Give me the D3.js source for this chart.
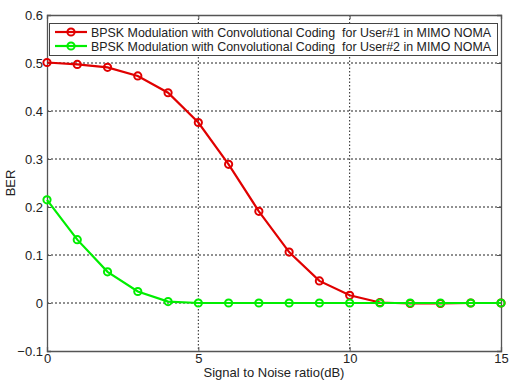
<!DOCTYPE html>
<html>
<head>
<meta charset="utf-8">
<script src="https://cdn.jsdelivr.net/npm/d3@7"></script>
<style>
  body { margin:0; background:#fff; }
  svg text { font-family: Arial, "Liberation Sans", sans-serif; }
</style>
</head>
<body>
<svg id="chart"></svg>
<script>
const width = 513, height = 388;

const snr = [0,1,2,3,4,5,6,7,8,9,10,11,12,13,14,15]
const user1 = [0.501,0.497,0.491,0.473,0.438,0.376,0.289,0.191,0.106,0.046,0.016,0.001,-0.001,-0.001,0,0]
const user2 = [0.215,0.132,0.065,0.024,0.003,0,0,0,0,0,0,0,0,0,0,0]
const seriesNames = ['BPSK Modulation with Convolutional Coding  for User#1 in MIMO NOMA',
                     'BPSK Modulation with Convolutional Coding  for User#2 in MIMO NOMA']
const seriesColors = ['#e00000','#00ee00']
const xTicks = [0,5,10,15]
const yTicks = [-0.1,0,0.1,0.2,0.3,0.4,0.5,0.6]

const margin = {left:47, right:12, top:15, bottom:37}

const svg = d3.select('#chart')
  .attr('width', width)
  .attr('height', height)

const x = d3.scaleLinear().domain([0,15]).range([margin.left, width-margin.right])
const y = d3.scaleLinear().domain([-0.1,0.6]).range([height-margin.bottom, margin.top])

// grid
svg.append('g').selectAll('line')
  .data(xTicks.slice(1,-1))
  .enter().append('line')
    .attr('x1', d=>x(d)).attr('x2', d=>x(d))
    .attr('y1', y(0.6)).attr('y2', y(-0.1))
    .attr('stroke','#222').attr('stroke-width',1)
    .attr('stroke-dasharray','1.5,2')
svg.append('g').selectAll('line')
  .data(yTicks.slice(1,-1))
  .enter().append('line')
    .attr('x1', x(0)).attr('x2', x(15))
    .attr('y1', d=>y(d)).attr('y2', d=>y(d))
    .attr('stroke','#222').attr('stroke-width',1)
    .attr('stroke-dasharray','2,2')

// axes, ticks inside
const xAxis = d3.axisBottom(x).tickValues(xTicks).tickSize(-4).tickPadding(3).tickFormat(d3.format('d'))
const yAxis = d3.axisLeft(y).tickValues(yTicks).tickSize(-4).tickPadding(4).tickFormat(d=>d===0?'0':d3.format('.1f')(d))
const yRight = d3.axisRight(y).tickValues(yTicks).tickSize(-4).tickFormat('')
const xTop = d3.axisTop(x).tickValues(xTicks).tickSize(-4).tickFormat('')

function styleAxis(g){
  g.select('.domain').attr('stroke','#555').attr('stroke-width',1.3)
  g.selectAll('.tick line').attr('stroke','#555')
  g.selectAll('.tick text').attr('font-size',13).attr('fill','#222')
    .attr('font-family','Arial, "Liberation Sans", sans-serif')
}
svg.append('g').attr('transform',`translate(0,${y(-0.1)})`).call(xAxis).call(styleAxis)
svg.append('g').attr('transform',`translate(${x(0)},0)`).call(yAxis).call(styleAxis)
svg.append('g').attr('transform',`translate(${x(15)},0)`).call(yRight).call(styleAxis)
svg.append('g').attr('transform',`translate(0,${y(0.6)})`).call(xTop).call(styleAxis)

// labels
svg.append('text')
  .attr('x', (x(0)+x(15))/2).attr('y', 377)
  .attr('text-anchor','middle').attr('font-size',13).attr('fill','#222')
  .text('Signal to Noise ratio(dB)')
svg.append('text')
  .attr('transform',`translate(15,${(y(-0.1)+y(0.6))/2}) rotate(-90)`)
  .attr('text-anchor','middle').attr('font-size',13).attr('fill','#222')
  .text('BER')

const line = d3.line().x((d,i)=>x(snr[i])).y(d=>y(d))

const allSeries = [user1,user2]
allSeries.forEach((vals,k)=>{
  svg.append('path')
    .datum(vals)
    .attr('d', line)
    .attr('fill','none')
    .attr('stroke', seriesColors[k])
    .attr('stroke-width',2.2)
  svg.append('g').selectAll('circle')
    .data(vals)
    .enter().append('circle')
      .attr('cx',(d,i)=>x(snr[i]))
      .attr('cy',d=>y(d))
      .attr('r',3.6)
      .attr('fill','none')
      .attr('stroke',seriesColors[k])
      .attr('stroke-width',2)
})

// legend
const lg = svg.append('g')
lg.append('rect')
  .attr('x',49.5).attr('y',23.5).attr('width',448).attr('height',32)
  .attr('fill','#fff').attr('stroke','#444').attr('stroke-width',1)
seriesNames.forEach((name,k)=>{
  const yy = 32 + k*14
  lg.append('line').attr('x1',55).attr('x2',87).attr('y1',yy).attr('y2',yy)
    .attr('stroke',seriesColors[k]).attr('stroke-width',2.2)
  lg.append('circle').attr('cx',71).attr('cy',yy).attr('r',3.6)
    .attr('fill','none').attr('stroke',seriesColors[k]).attr('stroke-width',2)
  lg.append('text').attr('x',91).attr('y',yy+4.5)
    .attr('font-size',13).attr('fill','#222')
    .attr('xml:space','preserve').style('white-space','pre')
    .attr('textLength',400).attr('lengthAdjust','spacingAndGlyphs')
    .text(name)
})
</script>
</body>
</html>
